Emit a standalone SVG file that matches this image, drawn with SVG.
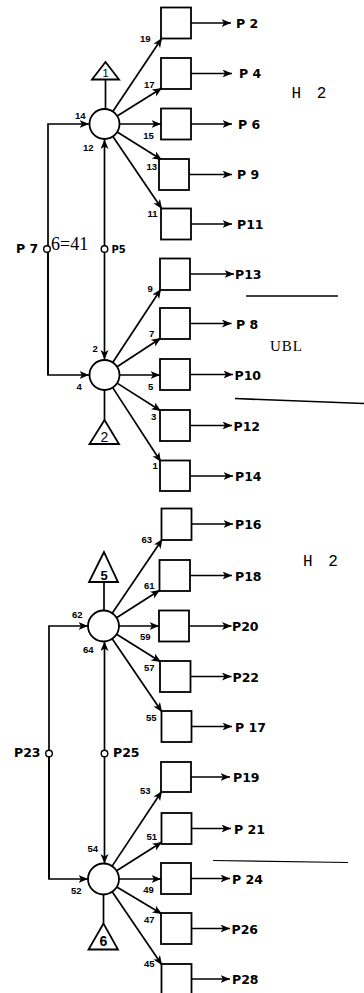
<svg xmlns="http://www.w3.org/2000/svg" width="364" height="993" viewBox="0 0 364 993">
<defs>
<marker id="ah" markerUnits="userSpaceOnUse" markerWidth="11" markerHeight="9" refX="9.5" refY="4" orient="auto">
<path d="M0,0 L9.5,4 L0,8 L2.5,4 Z" fill="#000"/>
</marker>
<style>
.ln{stroke:#000;stroke-width:1.7;fill:none}
.ar{stroke:#000;stroke-width:1.7;fill:none;marker-end:url(#ah)}
.bx{stroke:#000;stroke-width:1.8;fill:#fff}
.cn{stroke:#000;stroke-width:1.8;fill:#fff}
.sm{stroke:#000;stroke-width:1.4;fill:#fff}
.tr{stroke:#000;stroke-width:1.8;fill:#fff;stroke-linejoin:miter}
.pl{font-family:"DejaVu Sans",sans-serif;font-weight:bold;font-size:12.5px;fill:#000}
.nl{font-family:"Liberation Sans",Arial,sans-serif;font-weight:bold;font-size:9.5px;fill:#000}
.tl{font-family:"Liberation Sans",Arial,sans-serif;font-weight:bold;font-size:13px;text-anchor:middle;fill:#000}
.sf{font-family:"Liberation Serif","Times New Roman",serif;fill:#000}
.mo{font-family:"Liberation Mono","Courier New",monospace;fill:#000}
</style>
</defs>
<rect width="364" height="993" fill="#fff"/>

<g id="connectors">
<path class="ln" d="M48,248 V375"/>
<path class="ar" d="M48,248 V124 H89"/>
<path class="ar" d="M48,252 V375 H89"/>
<path class="ar" d="M104.5,246 V139.5"/>
<path class="ar" d="M104.5,252 V359.5"/>
<path class="ln" d="M105.5,79.5 V109"/>
<path class="ln" d="M104.5,390 V420"/>
<path class="ar" d="M112.8,111.5 L162,38"/>
<path class="ar" d="M117.2,116 L162,88"/>
<path class="ar" d="M119.5,124 L161,124"/>
<path class="ar" d="M117.2,132 L162,160"/>
<path class="ar" d="M112.9,136.4 L162,209"/>
<path class="ar" d="M112.7,362.5 L161,289"/>
<path class="ar" d="M117.1,366.8 L161,338"/>
<path class="ar" d="M119.5,375 L160,375"/>
<path class="ar" d="M117.1,383.1 L161,411"/>
<path class="ar" d="M112.7,387.6 L161,462"/>
<path class="ar" d="M191,23 H231"/>
<path class="ar" d="M191,73.5 H232"/>
<path class="ar" d="M191,124 H232"/>
<path class="ar" d="M189,174.5 H232"/>
<path class="ar" d="M191,224 H232"/>
<path class="ar" d="M190,274 H234"/>
<path class="ar" d="M190,323.5 H231.5"/>
<path class="ar" d="M190,374.5 H233"/>
<path class="ar" d="M190,425.5 H232"/>
<path class="ar" d="M190,476 H233"/>
<path class="ln" d="M49,753 V879"/>
<path class="ar" d="M49,750 V626 H88"/>
<path class="ar" d="M49,757 V879 H88"/>
<path class="ar" d="M104.5,750 V641.5"/>
<path class="ar" d="M104.5,757 V863.5"/>
<path class="ln" d="M104,582 V610.5"/>
<path class="ln" d="M103.5,894.5 V923.5"/>
<path class="ar" d="M112.2,613.2 L162.5,539"/>
<path class="ar" d="M116.6,617.7 L160,590"/>
<path class="ar" d="M119,626 L159,626"/>
<path class="ar" d="M116.6,634.2 L161,662"/>
<path class="ar" d="M112.2,638.8 L162,712"/>
<path class="ar" d="M112.1,866.1 L162,791"/>
<path class="ar" d="M116.6,870.7 L162,842"/>
<path class="ar" d="M119,879 L161,879"/>
<path class="ar" d="M116.8,887 L162,914"/>
<path class="ar" d="M112.2,891.8 L162,965"/>
<path class="ar" d="M191.5,524 H233"/>
<path class="ar" d="M190,575.5 H232"/>
<path class="ar" d="M189,626 H231.5"/>
<path class="ar" d="M190.5,676.5 H231.5"/>
<path class="ar" d="M191.5,726.5 H232"/>
<path class="ar" d="M191,777 H230"/>
<path class="ar" d="M191.5,828.5 H231"/>
<path class="ar" d="M191,878.5 H230"/>
<path class="ar" d="M191,928.5 H230"/>
<path class="ar" d="M191,979 H230"/>
</g>

<g id="tap-P7"><circle class="sm" cx="47" cy="249" r="3.3"/></g>
<g id="tap-P5"><circle class="sm" cx="104.5" cy="249" r="3.3"/></g>
<g id="tap-P23"><circle class="sm" cx="49" cy="753.5" r="3.3"/></g>
<g id="tap-P25"><circle class="sm" cx="104.5" cy="753.5" r="3.3"/></g>

<g id="hub-A"><circle class="cn" cx="104.5" cy="124" r="15"/>
<text class="nl" x="75" y="119">14</text><text class="nl" x="83" y="150.5">12</text></g>
<g id="hub-B"><circle class="cn" cx="104.5" cy="375" r="15"/>
<text class="nl" x="92.5" y="351.5">2</text><text class="nl" x="76.5" y="390">4</text></g>
<g id="hub-C"><circle class="cn" cx="103.5" cy="626" r="15.5"/>
<text class="nl" x="72" y="618.3">62</text><text class="nl" x="83" y="653.3">64</text></g>
<g id="hub-D"><circle class="cn" cx="103.5" cy="879" r="15.5"/>
<text class="nl" x="87.5" y="851.7">54</text><text class="nl" x="71" y="894">52</text></g>

<g id="tri-1"><polygon class="tr" points="105.5,62 92,79.5 119,79.5"/><text class="tl" style="font-weight:normal;font-size:11px" x="105.5" y="77.3">1</text></g>
<g id="tri-2"><polygon class="tr" points="104.5,420 89.5,444 119,444"/><text class="tl" style="font-weight:normal;font-size:14px" x="104.5" y="441.5">2</text></g>
<g id="tri-5"><polygon class="tr" points="104,552 89,582 118,582"/><text class="tl" x="104" y="579.5">5</text></g>
<g id="tri-6"><polygon class="tr" points="103.5,923.5 88.5,949.5 118,949.5"/><text class="tl" style="font-size:14px" x="103.5" y="945.5">6</text></g>

<g id="box-19"><rect class="bx" x="161" y="7.5" width="30" height="31"/><text class="nl" x="140" y="42">19</text><text class="pl" x="236" y="28">P 2</text></g>
<g id="box-17"><rect class="bx" x="161" y="58" width="30" height="31"/><text class="nl" x="144" y="87.5">17</text><text class="pl" x="239" y="78">P 4</text></g>
<g id="box-15"><rect class="bx" x="161" y="108.5" width="30" height="31"/><text class="nl" x="143.3" y="139">15</text><text class="pl" x="238" y="129">P 6</text></g>
<g id="box-13"><rect class="bx" x="159" y="159" width="30" height="31"/><text class="nl" x="146.5" y="169.5">13</text><text class="pl" x="237" y="179">P 9</text></g>
<g id="box-11"><rect class="bx" x="161" y="208.5" width="30" height="31"/><text class="nl" x="147.5" y="217">11</text><text class="pl" x="237" y="229">P11</text></g>

<g id="box-9"><rect class="bx" x="160" y="258.5" width="30" height="31.5"/><text class="nl" x="147.5" y="292">9</text><text class="pl" x="235" y="279">P13</text></g>
<g id="box-7"><rect class="bx" x="160" y="308" width="30" height="31"/><text class="nl" x="149" y="337">7</text><text class="pl" x="236" y="328.5">P 8</text></g>
<g id="box-5"><rect class="bx" x="160" y="359" width="30" height="31"/><text class="nl" x="148" y="390">5</text><text class="pl" x="234.5" y="379.5">P10</text></g>
<g id="box-3"><rect class="bx" x="160" y="410" width="30" height="31"/><text class="nl" x="151" y="419.5">3</text><text class="pl" x="233.5" y="430.5">P12</text></g>
<g id="box-1"><rect class="bx" x="160" y="460.5" width="30" height="30.5"/><text class="nl" x="152.5" y="468.5">1</text><text class="pl" x="235" y="481">P14</text></g>

<g id="box-63"><rect class="bx" x="161.5" y="508.5" width="30" height="31.5"/><text class="nl" x="141.5" y="542.7">63</text><text class="pl" x="235" y="529">P16</text></g>
<g id="box-61"><rect class="bx" x="159.5" y="560" width="30.5" height="31"/><text class="nl" x="144" y="588.5">61</text><text class="pl" x="235" y="580.5">P18</text></g>
<g id="box-59"><rect class="bx" x="159" y="610.5" width="30" height="31"/><text class="nl" x="140" y="640">59</text><text class="pl" x="232" y="631">P20</text></g>
<g id="box-57"><rect class="bx" x="160" y="661" width="30.5" height="31"/><text class="nl" x="144" y="670.7">57</text><text class="pl" x="232.5" y="681.5">P22</text></g>
<g id="box-55"><rect class="bx" x="161.5" y="711" width="30" height="31"/><text class="nl" x="146" y="720.5">55</text><text class="pl" x="235" y="731.5">P 17</text></g>

<g id="box-53"><rect class="bx" x="161" y="762" width="30" height="30"/><text class="nl" x="140" y="794.3">53</text><text class="pl" x="233" y="782">P19</text></g>
<g id="box-51"><rect class="bx" x="161.5" y="813" width="30" height="31"/><text class="nl" x="146.5" y="840">51</text><text class="pl" x="234" y="833.5">P 21</text></g>
<g id="box-49"><rect class="bx" x="161" y="863" width="30" height="31"/><text class="nl" x="143.3" y="893.3">49</text><text class="pl" x="232" y="883.5">P 24</text></g>
<g id="box-47"><rect class="bx" x="161" y="913" width="30.5" height="31"/><text class="nl" x="144" y="922.7">47</text><text class="pl" x="231.5" y="933.5">P26</text></g>
<g id="box-45"><rect class="bx" x="161.5" y="964" width="30" height="31"/><text class="nl" x="144" y="966.7">45</text><text class="pl" x="232" y="984">P28</text></g>

<text class="pl" x="16" y="253.3">P 7</text>
<text class="pl" style="font-size:10px" x="111.5" y="253.3">P5</text>
<text class="sf" style="font-size:18px" x="51" y="250">6=41</text>
<text class="pl" x="14" y="757.3">P23</text>
<text class="pl" x="113" y="757.3">P25</text>

<text class="mo" style="font-size:16px;word-spacing:6px" x="291.5" y="98">H 2</text>
<text class="mo" style="font-size:16px;word-spacing:6px" x="303" y="566">H 2</text>
<text class="sf" style="font-size:15px;letter-spacing:1px" x="270" y="351">UBL</text>
<path class="ln" d="M246,296 H338"/>
<path class="ln" d="M235,398.5 L364,403.5"/>
<path class="ln" style="stroke-width:1.2" d="M213,860.5 L348,862.5"/>
</svg>
